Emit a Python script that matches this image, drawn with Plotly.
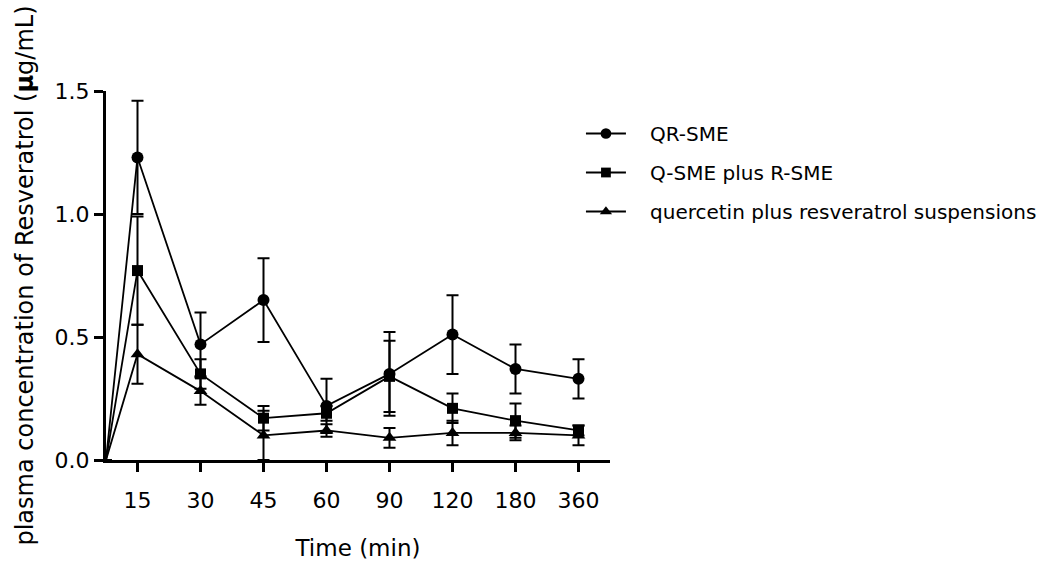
import plotly.graph_objects as go

# ---- data ----
time_labels = ["15", "30", "45", "60", "90", "120", "180", "360"]
origin_value = 0.0

qr_sme = [1.23, 0.47, 0.65, 0.22, 0.35, 0.51, 0.37, 0.33]
qr_sme_err = [0.23, 0.13, 0.17, 0.11, 0.17, 0.16, 0.10, 0.08]

q_r_sme = [0.77, 0.35, 0.17, 0.19, 0.34, 0.21, 0.16, 0.12]
q_r_sme_err = [0.22, 0.06, 0.05, 0.03, 0.145, 0.06, 0.07, 0.02]

susp = [0.43, 0.28, 0.10, 0.12, 0.09, 0.11, 0.11, 0.10]
susp_err = [0.12, 0.055, 0.10, 0.025, 0.04, 0.05, 0.03, 0.04]

series_names = ["QR-SME", "Q-SME plus R-SME", "quercetin plus resveratrol suspensions"]
symbols = ["circle", "square", "triangle-up"]
marker_sizes = [12, 11, 12]

FONT = "DejaVu Sans"
INK = "#000000"
PAD = "\u00a0\u00a0\u00a0"  # gap between legend symbol and label

# category positions: origin sits half a step before the first time point
cat_pos = list(range(1, len(time_labels) + 1))
x_vals = [0.5] + cat_pos

fig = go.Figure()
for name, vals, errs, sym, ms in zip(series_names,
                                     [qr_sme, q_r_sme, susp],
                                     [qr_sme_err, q_r_sme_err, susp_err],
                                     symbols, marker_sizes):
    fig.add_trace(go.Scatter(
        x=x_vals,
        y=[origin_value] + vals,
        name=PAD + name,
        legendgroup=name,
        mode="lines+markers",
        line=dict(color=INK, width=1.8),
        marker=dict(symbol=sym, size=[0] + [ms] * len(vals), color=INK,
                    opacity=1, line=dict(width=0)),
        error_y=dict(type="data", array=[None] + errs, visible=True,
                     color=INK, thickness=2, width=6),
    ))

fig.update_layout(
    width=1064, height=570,
    paper_bgcolor="white", plot_bgcolor="white",
    margin=dict(l=106, r=454, t=91, b=110, autoexpand=False),
    font=dict(family=FONT, color=INK, size=20),
    showlegend=True,
    legend=dict(
        xref="container", yref="container",
        x=0.546, y=0.80, xanchor="left", yanchor="top",
        font=dict(size=20, family=FONT, color=INK),
        tracegroupgap=10,
        bgcolor="rgba(0,0,0,0)",
        itemwidth=40,
    ),
    xaxis=dict(
        range=[0.5, 8.5],
        tickmode="array", tickvals=cat_pos, ticktext=time_labels,
        showgrid=False, zeroline=False,
        showline=True, linecolor=INK, linewidth=3,
        ticks="outside", ticklen=9, tickwidth=2.5, tickcolor=INK,
        tickfont=dict(size=22, family=FONT, color=INK),
        ticklabelstandoff=10,
        title=dict(text="Time (min)", font=dict(size=23, family=FONT, color=INK), standoff=28),
        automargin=False,
    ),
    yaxis=dict(
        range=[0, 1.5],
        tickmode="array", tickvals=[0, 0.5, 1.0, 1.5], ticktext=["0.0", "0.5", "1.0", "1.5"],
        showgrid=False, zeroline=False,
        showline=True, linecolor=INK, linewidth=3,
        ticks="outside", ticklen=9, tickwidth=2.5, tickcolor=INK,
        tickfont=dict(size=22, family=FONT, color=INK),
        title=dict(text="plasma concentration of Resveratrol (<b>µ</b>g/mL)",
                   font=dict(size=24, family=FONT, color=INK), standoff=15),
        automargin=False,
    ),
)

fig.write_html("out.html")
